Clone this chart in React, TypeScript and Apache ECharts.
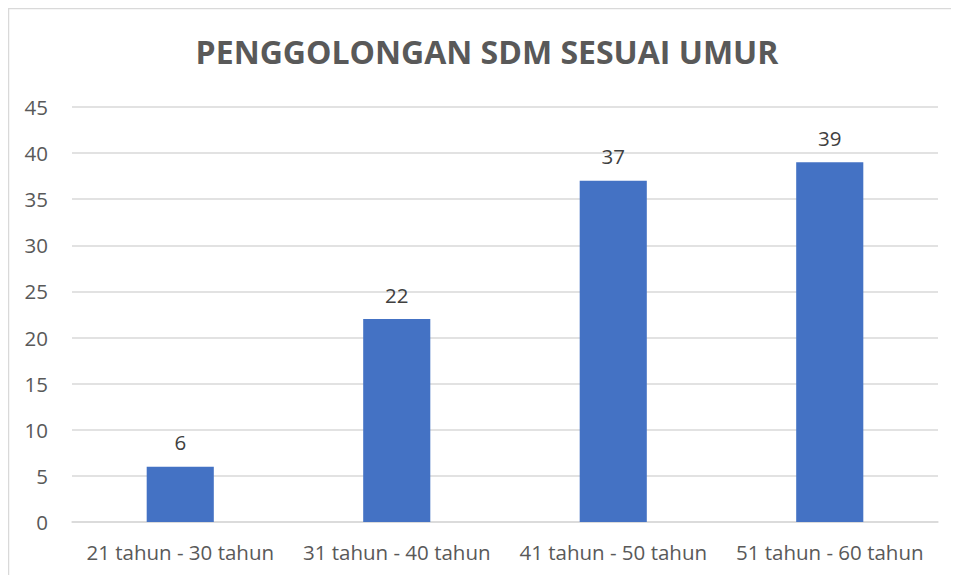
import React, { useEffect, useRef } from "react";
import * as echarts from "echarts";

const categories = ["21 tahun - 30 tahun", "31 tahun - 40 tahun", "41 tahun - 50 tahun", "51 tahun - 60 tahun"];
const values = [6, 22, 37, 39];
const titleText = "PENGGOLONGAN SDM SESUAI UMUR";

export default function App() {
  const ref = useRef<HTMLDivElement>(null);
  useEffect(() => {
    if (!ref.current) return;
    const chart = echarts.init(ref.current, null, { renderer: "svg" });
    chart.setOption({
      animation: false,
      backgroundColor: "#ffffff",
      title: {
        text: titleText,
        left: 474,
        top: 38,
        textAlign: "center",
        textVerticalAlign: "middle",
        textStyle: { fontFamily: "Open Sans", fontWeight: "bold", fontSize: 32, color: "#595959" },
      },
      graphic: [
        {
          type: "rect",
          shape: { x: 0.5, y: 0.5, width: 1200, height: 1200 },
          style: { fill: "none", stroke: "#d9d9d9", lineWidth: 1.5 },
          silent: true,
        },
      ],
      grid: { left: 64, right: 21, top: 99, bottom: 53 },
      xAxis: {
        type: "category",
        data: categories,
        axisLine: { show: true, lineStyle: { color: "#d9d9d9", width: 1.5 } },
        axisTick: { show: false },
        axisLabel: { interval: 0, fontFamily: "Open Sans", fontSize: 20.5, color: "#595959", margin: 19 },
      },
      yAxis: {
        type: "value",
        min: 0,
        max: 45,
        interval: 5,
        axisLine: { show: false },
        axisTick: { show: false },
        splitLine: { lineStyle: { color: "#d9d9d9", width: 1.5 } },
        axisLabel: { fontFamily: "Open Sans", fontSize: 20.5, color: "#595959", margin: 24 },
      },
      series: [
        {
          type: "bar",
          data: values,
          barWidth: "31%",
          itemStyle: { color: "#4472C4" },
          label: {
            show: true,
            position: "top",
            distance: 14,
            fontFamily: "Open Sans",
            fontSize: 20.5,
            color: "#404040",
          },
        },
      ],
    });
    return () => chart.dispose();
  }, []);
  return <div ref={ref} style={{ width: 951, height: 567 }} />;
}
